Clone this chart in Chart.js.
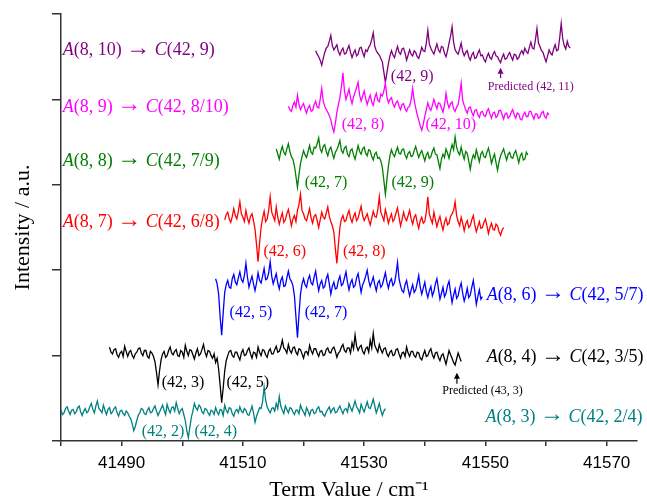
<!DOCTYPE html>
<html>
<head>
<meta charset="utf-8">
<script src="https://cdn.jsdelivr.net/npm/chart.js@4.4.1/dist/chart.umd.min.js"></script>
<style>
  html, body { margin: 0; padding: 0; background: #fff; }
  #wrap { width: 647px; height: 502px; }
</style>
</head>
<body>
<div id="wrap"><canvas id="spectra" width="647" height="502"></canvas></div>
<script>
// spacing of the recorded points, cm-1
const STEP = 0.25;

// A(8,3) -> C(42,2/4)
const tealStart = 41480;
const tealValues = [
  0.36, 0.31, 0.33, 0.38, 0.40, 0.35, 0.31, 0.36, 0.37, 0.32,
  0.34, 0.39, 0.41, 0.34, 0.30, 0.35, 0.38, 0.33, 0.35, 0.40,
  0.44, 0.37, 0.33, 0.41, 0.47, 0.38, 0.36, 0.33, 0.42, 0.36,
  0.31, 0.37, 0.39, 0.32, 0.34, 0.38, 0.40, 0.33, 0.29, 0.35,
  0.36, 0.32, 0.30, 0.35, 0.33, 0.29, 0.26, 0.20, 0.12, 0.17,
  0.24, 0.30, 0.33, 0.38, 0.37, 0.32, 0.31, 0.36, 0.39, 0.33,
  0.34, 0.38, 0.41, 0.35, 0.30, 0.34, 0.38, 0.42, 0.36, 0.31,
  0.43, 0.37, 0.33, 0.39, 0.40, 0.35, 0.45, 0.38, 0.32, 0.36,
  0.38, 0.31, 0.24, 0.12, 0.04, 0.16, 0.28, 0.35, 0.44, 0.39,
  0.36, 0.42, 0.40, 0.34, 0.32, 0.38, 0.37, 0.33, 0.30, 0.36,
  0.35, 0.31, 0.39, 0.34, 0.31, 0.37, 0.36, 0.30, 0.42, 0.36,
  0.33, 0.39, 0.38, 0.32, 0.29, 0.35, 0.37, 0.33, 0.40, 0.35,
  0.33, 0.38, 0.36, 0.31, 0.30, 0.35, 0.41, 0.33, 0.22, 0.29,
  0.34, 0.39, 0.38, 0.46, 0.63, 0.48, 0.40, 0.36, 0.33, 0.38,
  0.39, 0.35, 0.44, 0.38, 0.52, 0.41, 0.36, 0.32, 0.41, 0.37,
  0.33, 0.39, 0.38, 0.34, 0.31, 0.36, 0.36, 0.32, 0.42, 0.37,
  0.34, 0.30, 0.39, 0.35, 0.30, 0.36, 0.37, 0.32, 0.33, 0.38,
  0.40, 0.34, 0.35, 0.31, 0.29, 0.34, 0.37, 0.40, 0.33, 0.37,
  0.39, 0.33, 0.34, 0.38, 0.41, 0.36, 0.32, 0.37, 0.38, 0.34,
  0.44, 0.39, 0.35, 0.41, 0.47, 0.40, 0.37, 0.33, 0.43, 0.38,
  0.34, 0.40, 0.46, 0.39, 0.38, 0.43, 0.49, 0.41, 0.33, 0.38,
  0.44, 0.36, 0.30, 0.35, 0.38,
];

// A(8,4) -> C(42,3/5)
const blackStart = 41488;
const blackValues = [
  1.10, 1.04, 1.02, 1.07, 1.08, 1.01, 0.98, 1.03, 1.05, 0.99,
  1.11, 1.05, 0.99, 1.04, 1.06, 1.00, 0.97, 1.02, 1.04, 1.08,
  1.09, 1.03, 1.00, 1.06, 1.06, 0.99, 0.97, 1.05, 1.03, 0.99,
  0.93, 0.80, 0.66, 0.82, 0.95, 1.02, 1.05, 0.98, 1.00, 1.06,
  1.10, 1.03, 1.01, 1.05, 1.07, 1.00, 0.99, 1.06, 1.04, 0.98,
  1.12, 1.05, 1.00, 1.07, 1.06, 1.01, 0.96, 1.03, 1.08, 1.00,
  1.02, 1.07, 1.13, 1.04, 0.99, 1.06, 1.05, 1.00, 0.97, 1.02,
  0.92, 0.97, 0.84, 0.65, 0.45, 0.62, 0.82, 0.94, 1.00, 1.05,
  1.06, 1.00, 0.98, 1.04, 1.04, 0.99, 0.95, 1.03, 1.07, 1.00,
  1.01, 1.06, 1.09, 1.02, 0.97, 1.04, 1.03, 0.98, 1.10, 1.04,
  1.00, 1.07, 1.06, 1.01, 0.98, 1.05, 1.08, 1.02, 1.02, 1.07,
  1.11, 1.04, 1.05, 1.10, 1.18, 1.09, 1.07, 1.03, 1.13, 1.06,
  1.03, 1.09, 1.10, 1.04, 1.01, 1.08, 1.07, 1.02, 0.97, 1.04,
  1.05, 1.01, 1.12, 1.06, 1.02, 1.08, 1.08, 1.03, 0.99, 1.05,
  1.06, 1.00, 1.01, 1.07, 1.09, 1.04, 1.03, 1.08, 1.10, 1.05,
  0.98, 1.03, 1.05, 1.10, 1.13, 1.06, 1.04, 1.09, 1.09, 1.03,
  1.15, 1.08, 1.24, 1.11, 1.06, 1.10, 1.12, 1.05, 1.02, 1.08,
  1.10, 1.04, 1.18, 1.09, 1.26, 1.12, 1.08, 1.04, 1.13, 1.07,
  1.03, 1.08, 1.09, 1.02, 0.99, 1.04, 1.06, 1.00, 1.01, 1.07,
  1.08, 1.02, 0.97, 1.03, 1.04, 0.99, 1.10, 1.03, 0.99, 1.05,
  1.05, 1.00, 0.98, 1.04, 1.03, 0.97, 0.95, 1.01, 1.06, 0.99,
  1.00, 1.05, 1.08, 1.01, 0.97, 1.03, 1.04, 0.98, 0.94, 1.00,
  1.02, 0.96, 0.90, 0.98, 1.06, 1.01, 0.97, 0.92, 0.89, 0.96,
  1.03, 0.98, 0.93,
];

// A(8,6) -> C(42,5/7)
const blueStart = 41505.5;
const blueValues = [
  1.90, 1.84, 1.72, 1.45, 1.24, 1.50, 1.74, 1.83, 1.88, 1.80,
  1.79, 1.90, 1.95, 1.86, 1.83, 1.91, 1.98, 1.89, 1.86, 1.94,
  2.08, 1.92, 1.80, 1.87, 1.93, 1.84, 1.76, 1.85, 1.97, 1.88,
  1.85, 1.93, 2.02, 1.89, 1.90, 1.97, 2.10, 1.93, 1.84, 1.90,
  1.96, 1.85, 1.78, 1.88, 1.92, 1.81, 1.82, 1.91, 1.99, 1.90,
  1.87, 1.82, 1.70, 1.45, 1.21, 1.48, 1.72, 1.84, 1.90, 1.83,
  1.80, 1.89, 1.94, 1.85, 1.83, 1.92, 1.99, 1.86, 1.76, 1.84,
  1.88, 1.79, 1.81, 1.90, 1.95, 1.84, 1.72, 1.81, 1.86, 1.78,
  1.79, 1.88, 1.93, 1.82, 1.84, 1.91, 1.98, 1.86, 1.77, 1.85,
  1.89, 1.80, 1.82, 1.91, 1.96, 1.85, 1.74, 1.83, 1.87, 1.93,
  2.00, 1.88, 1.81, 1.86, 1.92, 1.83, 1.76, 1.85, 1.88, 1.80,
  1.83, 1.90, 1.97, 1.86, 1.79, 1.87, 1.90, 1.82, 1.85, 1.95,
  2.09, 1.90, 1.82, 1.76, 1.74, 1.83, 1.88, 1.78, 1.70, 1.77,
  1.83, 1.74, 1.77, 1.85, 1.94, 1.80, 1.72, 1.79, 1.86, 1.75,
  1.68, 1.76, 1.81, 1.70, 1.75, 1.84, 1.90, 1.78, 1.66, 1.73,
  1.80, 1.69, 1.73, 1.82, 1.87, 1.74, 1.62, 1.71, 1.78, 1.67,
  1.70, 1.79, 1.85, 1.73, 1.64, 1.70, 1.79, 1.68, 1.71, 1.80,
  1.88, 1.75, 1.60, 1.69, 1.77, 1.66, 1.69,
];

// A(8,7) -> C(42,6/8)
const redStart = 41507;
const redValues = [
  2.59, 2.65, 2.68, 2.60, 2.56, 2.63, 2.72, 2.64, 2.60, 2.69,
  2.80, 2.66, 2.62, 2.57, 2.70, 2.61, 2.55, 2.63, 2.66, 2.58,
  2.48, 2.30, 2.10, 2.32, 2.50, 2.61, 2.69, 2.57, 2.60, 2.70,
  2.86, 2.68, 2.63, 2.58, 2.74, 2.62, 2.54, 2.61, 2.67, 2.56,
  2.59, 2.66, 2.71, 2.62, 2.52, 2.60, 2.64, 2.57, 2.70, 2.77,
  2.89, 2.70, 2.66, 2.60, 2.58, 2.65, 2.72, 2.61, 2.55, 2.63,
  2.65, 2.58, 2.50, 2.59, 2.68, 2.62, 2.60, 2.67, 2.74, 2.63,
  2.57, 2.52, 2.45, 2.25, 2.08, 2.30, 2.50, 2.60, 2.64, 2.57,
  2.58, 2.65, 2.70, 2.61, 2.56, 2.63, 2.67, 2.58, 2.61, 2.68,
  2.75, 2.64, 2.58, 2.62, 2.66, 2.59, 2.53, 2.61, 2.69, 2.63,
  2.62, 2.71, 2.86, 2.68, 2.63, 2.58, 2.71, 2.64, 2.55, 2.61,
  2.66, 2.57, 2.60, 2.67, 2.73, 2.62, 2.52, 2.59, 2.68, 2.61,
  2.58, 2.64, 2.70, 2.60, 2.54, 2.62, 2.65, 2.56, 2.49, 2.58,
  2.62, 2.55, 2.57, 2.68, 2.86, 2.66, 2.60, 2.55, 2.68, 2.59,
  2.51, 2.58, 2.63, 2.54, 2.47, 2.56, 2.61, 2.53, 2.55, 2.63,
  2.66, 2.70, 2.80, 2.64, 2.57, 2.52, 2.62, 2.55, 2.46, 2.54,
  2.58, 2.50, 2.52, 2.59, 2.64, 2.53, 2.45, 2.51, 2.57, 2.49,
  2.50, 2.56, 2.60, 2.52, 2.43, 2.50, 2.55, 2.48, 2.47, 2.54,
  2.52, 2.45, 2.41, 2.47, 2.50,
];

// A(8,8) -> C(42,7/9)
const greenStart = 41515.5;
const greenValues = [
  3.42, 3.36, 3.30, 3.39, 3.45, 3.38, 3.35, 3.42, 3.48, 3.39,
  3.33, 3.30, 3.22, 3.10, 2.97, 3.12, 3.25, 3.33, 3.40, 3.35,
  3.32, 3.39, 3.46, 3.38, 3.36, 3.44, 3.43, 3.48, 3.55, 3.42,
  3.38, 3.45, 3.47, 3.39, 3.34, 3.41, 3.44, 3.37, 3.31, 3.38,
  3.41, 3.46, 3.52, 3.40, 3.37, 3.43, 3.45, 3.36, 3.33, 3.40,
  3.42, 3.35, 3.30, 3.38, 3.46, 3.39, 3.36, 3.42, 3.44, 3.37,
  3.34, 3.41, 3.40, 3.33, 3.29, 3.36, 3.38, 3.31, 3.32, 3.28,
  3.20, 3.05, 2.89, 3.06, 3.22, 3.34, 3.41, 3.36, 3.33, 3.39,
  3.44, 3.37, 3.36, 3.41, 3.42, 3.35, 3.31, 3.37, 3.39, 3.33,
  3.34, 3.40, 3.45, 3.38, 3.32, 3.37, 3.40, 3.34, 3.28, 3.35,
  3.38, 3.31, 3.33, 3.39, 3.43, 3.36, 3.35, 3.27, 3.19, 3.30,
  3.36, 3.32, 3.42, 3.37, 3.31, 3.40, 3.47, 3.41, 3.56, 3.44,
  3.38, 3.35, 3.44, 3.36, 3.30, 3.39, 3.37, 3.28, 3.18, 3.29,
  3.35, 3.31, 3.41, 3.34, 3.27, 3.36, 3.39, 3.33, 3.32, 3.38,
  3.43, 3.35, 3.25, 3.31, 3.36, 3.26, 3.17, 3.27, 3.34, 3.38,
  3.42, 3.35, 3.29, 3.36, 3.38, 3.32, 3.31, 3.37, 3.40, 3.33,
  3.26, 3.34, 3.37, 3.29, 3.30, 3.38, 3.35,
];

// A(8,9) -> C(42,8/10)
const magentaStart = 41517.5;
const magentaValues = [
  3.92, 3.88, 3.86, 3.93, 3.97, 3.91, 4.05, 3.94, 3.88, 3.92,
  3.95, 3.89, 3.84, 3.90, 3.93, 3.86, 3.87, 3.94, 3.98, 3.91,
  3.90, 4.00, 4.13, 3.98, 3.92, 3.88, 3.85, 3.81, 3.76, 3.68,
  3.62, 3.72, 3.85, 3.94, 4.02, 4.15, 4.31, 4.10, 4.00, 4.06,
  4.12, 4.02, 3.95, 4.03, 4.08, 4.14, 4.20, 4.05, 3.98, 4.04,
  4.10, 4.01, 3.94, 4.00, 4.05, 3.97, 3.93, 4.02, 4.07, 3.99,
  3.97, 4.06, 4.04, 4.10, 4.19, 4.03, 3.96, 4.00, 4.02, 3.95,
  3.91, 3.96, 3.98, 3.92, 3.88, 3.94, 3.95, 3.89, 3.86, 3.91,
  3.92, 4.00, 4.13, 3.99, 3.90, 3.82, 3.76, 3.69, 3.64, 3.71,
  3.80, 3.88, 3.96, 3.90, 3.87, 3.93, 4.00, 3.94, 3.89, 3.96,
  3.95, 3.90, 3.85, 3.93, 4.07, 3.96, 3.90, 3.95, 3.97, 3.89,
  3.86, 3.91, 3.94, 4.05, 4.19, 3.99, 3.93, 3.88, 3.84, 3.90,
  3.91, 3.85, 3.81, 3.87, 3.88, 3.82, 3.79, 3.85, 3.86, 3.81,
  3.80, 3.86, 3.89, 3.83, 3.78, 3.84, 3.85, 3.79, 3.81, 3.87,
  3.87, 3.82, 3.77, 3.83, 3.84, 3.78, 3.80, 3.85, 3.88, 3.82,
  3.78, 3.84, 3.83, 3.77, 3.76, 3.82, 3.85, 3.80, 3.80, 3.86,
  3.86, 3.81, 3.77, 3.83, 3.83, 3.78, 3.79, 3.84, 3.86, 3.80,
  3.78, 3.84, 3.82,
];

// A(8,10) -> C(42,9)
const purpleStart = 41522;
const purpleValues = [
  4.57, 4.53, 4.50, 4.46, 4.40, 4.48, 4.55, 4.60, 4.62, 4.68,
  4.75, 4.63, 4.58, 4.61, 4.64, 4.56, 4.52, 4.57, 4.60, 4.53,
  4.54, 4.59, 4.63, 4.55, 4.49, 4.54, 4.58, 4.51, 4.53, 4.60,
  4.61, 4.55, 4.50, 4.58, 4.56, 4.61, 4.64, 4.70, 4.78, 4.62,
  4.57, 4.54, 4.52, 4.48, 4.44, 4.32, 4.20, 4.31, 4.42, 4.51,
  4.57, 4.52, 4.49, 4.56, 4.62, 4.55, 4.53, 4.59, 4.60, 4.54,
  4.46, 4.52, 4.58, 4.53, 4.51, 4.57, 4.55, 4.50, 4.48, 4.54,
  4.61, 4.57, 4.56, 4.66, 4.81, 4.65, 4.60, 4.56, 4.53, 4.59,
  4.65, 4.58, 4.55, 4.62, 4.61, 4.54, 4.50, 4.57, 4.66, 4.74,
  4.85, 4.67, 4.58, 4.55, 4.53, 4.59, 4.66, 4.56, 4.51, 4.55,
  4.57, 4.50, 4.46, 4.52, 4.55, 4.48, 4.49, 4.54, 4.58, 4.51,
  4.52, 4.47, 4.44, 4.50, 4.54, 4.49, 4.47, 4.53, 4.56, 4.51,
  4.50, 4.46, 4.43, 4.49, 4.53, 4.47, 4.48, 4.52, 4.55, 4.50,
  4.46, 4.53, 4.52, 4.47, 4.49, 4.54, 4.57, 4.53, 4.60, 4.56,
  4.54, 4.61, 4.67, 4.60, 4.59, 4.70, 4.83, 4.66, 4.62, 4.57,
  4.55, 4.49, 4.44, 4.51, 4.58, 4.54, 4.52, 4.59, 4.64, 4.57,
  4.58, 4.72, 4.89, 4.71, 4.63, 4.59, 4.68, 4.62, 4.60,
];

const seriesStarts = [tealStart, blackStart, blueStart, redStart, greenStart, magentaStart, purpleStart];
const seriesValues = [tealValues, blackValues, blueValues, redValues, greenValues, magentaValues, purpleValues];
const seriesColors = ["#008080", "#000000", "#0000ff", "#ff0000", "#007f00", "#ff00ff", "#7f007f"];

// band names and where they sit (data units)
const seriesNames = [
  "A(8, 3) → C(42, 2/4)",
  "A(8, 4) → C(42, 3/5)",
  "A(8, 6) → C(42, 5/7)",
  "A(8, 7) → C(42, 6/8)",
  "A(8, 8) → C(42, 7/9)",
  "A(8, 9) → C(42, 8/10)",
  "A(8, 10) → C(42, 9)",
];
const nameX = [41550.0, 41550.2, 41550.2, 41480.3, 41480.3, 41480.3, 41480.3];
const nameY = [0.28, 0.98, 1.71, 2.56, 3.28, 3.91, 4.57];

// assignments under the dips
const lineLabels = ["(42, 2)", "(42, 4)", "(42, 3)", "(42, 5)", "(42, 5)", "(42, 7)", "(42, 6)",
  "(42, 8)", "(42, 7)", "(42, 9)", "(42, 8)", "(42, 10)", "(42, 9)"];
const lineSeries = [0, 0, 1, 1, 2, 2, 3, 3, 4, 4, 5, 5, 6];
const lineX = [41493.3, 41502.0, 41496.6, 41507.3, 41507.8, 41520.2, 41513.4,
  41526.5, 41520.2, 41534.5, 41526.3, 41540.1, 41534.4];
const lineY = [0.105, 0.105, 0.68, 0.68, 1.50, 1.50, 2.22, 2.22, 3.02, 3.02, 3.70, 3.70, 4.27];

// predicted positions
const predictedLabels = ["Predicted (43, 3)", "Predicted (42, 11)"];
const predictedSeries = [1, 6];
const predictedX = [41545.3, 41552.5];
const predictedTip = [0.80, 4.37];
const predictedBase = [0.67, 4.25];
const predictedTextX = [41542.9, 41550.4];
const predictedTextY = [0.59, 4.15];

const SERIF = "'Liberation Serif', 'Times New Roman', serif";
const SANS = "'Liberation Sans', Arial, sans-serif";

const toPoints = (start, values) => values.map((v, i) => ({ x: start + i * STEP, y: v }));

// A and C are set in italics, the arrow a little larger
const drawName = (ctx, text, x, y, color) => {
  let cx = x;
  ctx.fillStyle = color;
  text.split(/(A|C|→)/).filter((p) => p.length).forEach((part) => {
    let dy = 0;
    if (part === "→") {
      ctx.font = "24px " + SERIF;
      dy = -2;
    } else if (part === "A" || part === "C") {
      ctx.font = "italic 18px " + SERIF;
    } else {
      ctx.font = "18px " + SERIF;
    }
    ctx.fillText(part, cx, y + dy);
    cx += ctx.measureText(part).width;
  });
};

const labelPlugin = {
  id: "spectrumLabels",
  afterDatasetsDraw(chart) {
    const { ctx } = chart;
    const xs = chart.scales.x;
    const ys = chart.scales.y;
    ctx.save();
    ctx.textAlign = "left";
    ctx.textBaseline = "middle";

    seriesNames.forEach((name, i) => {
      drawName(ctx, name, xs.getPixelForValue(nameX[i]), ys.getPixelForValue(nameY[i]), seriesColors[i]);
    });

    ctx.font = "16px " + SERIF;
    lineLabels.forEach((t, i) => {
      ctx.fillStyle = seriesColors[lineSeries[i]];
      ctx.fillText(t, xs.getPixelForValue(lineX[i]), ys.getPixelForValue(lineY[i]));
    });

    predictedLabels.forEach((t, i) => {
      const color = seriesColors[predictedSeries[i]];
      const px = xs.getPixelForValue(predictedX[i]);
      const tip = ys.getPixelForValue(predictedTip[i]);
      const base = ys.getPixelForValue(predictedBase[i]);
      ctx.strokeStyle = color;
      ctx.fillStyle = color;
      ctx.lineWidth = 1.2;
      ctx.beginPath();
      ctx.moveTo(px, base);
      ctx.lineTo(px, tip + 4);
      ctx.stroke();
      ctx.beginPath();
      ctx.moveTo(px, tip);
      ctx.lineTo(px - 3, tip + 6);
      ctx.lineTo(px + 3, tip + 6);
      ctx.closePath();
      ctx.fill();
      ctx.font = "12px " + SERIF;
      ctx.fillText(t, xs.getPixelForValue(predictedTextX[i]), ys.getPixelForValue(predictedTextY[i]));
    });
    ctx.restore();
  },
};

document.addEventListener("DOMContentLoaded", () => {
  const datasets = seriesValues.map((values, i) => ({
    data: toPoints(seriesStarts[i], values),
    borderColor: seriesColors[i],
    borderWidth: 1.3,
    pointRadius: 0,
    tension: 0,
    fill: false,
  }));

  new Chart(document.getElementById("spectra"), {
    type: "line",
    data: { datasets },
    plugins: [labelPlugin],
    options: {
      responsive: false,
      animation: false,
      layout: { padding: { top: 14, right: 10, left: 0, bottom: 0 } },
      plugins: { legend: { display: false }, tooltip: { enabled: false } },
      scales: {
        x: {
          type: "linear",
          min: 41480,
          max: 41575,
          afterFit: (scale) => {
            scale.height = 61;
          },
          grid: { drawOnChartArea: false, drawTicks: true, tickLength: 5, color: "#333", lineWidth: 1.5 },
          border: { color: "#333", width: 1.5 },
          ticks: {
            stepSize: 10,
            includeBounds: false,
            autoSkip: false,
            maxRotation: 0,
            padding: 7,
            color: "#000",
            font: { family: SANS, size: 17 },
            callback: (v) => ((v - 41490) % 20 === 0 ? String(v) : ""),
          },
          title: {
            display: true,
            text: "Term Value / cm⁻¹",
            color: "#000",
            font: { family: SERIF, size: 22, lineHeight: 1.1 },
            padding: { top: 0, bottom: 0 },
          },
        },
        y: {
          min: 0,
          max: 5,
          afterFit: (scale) => {
            scale.width = 61;
          },
          grid: { drawOnChartArea: false, drawTicks: true, tickLength: 9, color: "#333", lineWidth: 1.5 },
          border: { color: "#333", width: 1.5 },
          ticks: { stepSize: 1, callback: () => "" },
          title: {
            display: true,
            text: "Intensity / a.u.",
            color: "#000",
            font: { family: SERIF, size: 22, lineHeight: 1.1 },
            padding: { top: 11, bottom: 0 },
          },
        },
      },
    },
  });
});
</script>
</body>
</html>
